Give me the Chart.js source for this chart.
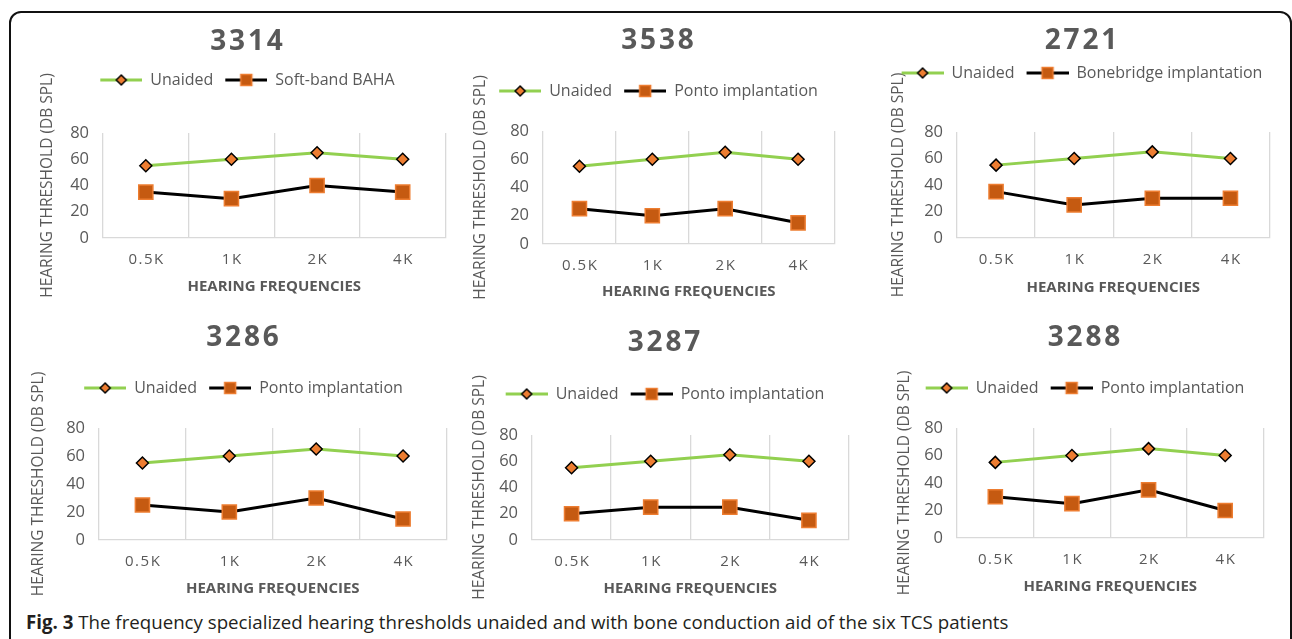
<!DOCTYPE html>
<html>
<head>
<meta charset="utf-8">
<script src="https://cdn.jsdelivr.net/npm/chart.js@4/dist/chart.umd.min.js"></script>
<style>
    html, body { margin: 0; padding: 0; background: #fff; }
    body { width: 1292px; height: 639px; position: relative; overflow: hidden; font-family: "Open Sans", sans-serif; }
    .frame { position: absolute; left: 9px; top: 11px; width: 1279px; height: 700px; border: 2px solid #111; border-radius: 12px; }
    .panel { position: absolute; }
    .caption { position: absolute; left: 26px; top: 609px; font-size: 18.7px; line-height: 26px; color: #231f20; white-space: nowrap; }
    .caption b { font-weight: 700; }
</style>
</head>
<body>
<div class="frame"></div>
<div class="caption"><b>Fig. 3</b> The frequency specialized hearing thresholds unaided and with bone conduction aid of the six TCS patients</div>

<script>
// chart data
const frequencies = ['0.5K', '1K', '2K', '4K'];
const patientIds = ['3314', '3538', '2721', '3286', '3287', '3288'];
const aidNames = ['Soft-band BAHA', 'Ponto implantation', 'Bonebridge implantation', 'Ponto implantation', 'Ponto implantation', 'Ponto implantation'];

const unaided3314 = [55, 60, 65, 60];
const aided3314 = [35, 30, 40, 35];
const unaided3538 = [55, 60, 65, 60];
const aided3538 = [25, 20, 25, 15];
const unaided2721 = [55, 60, 65, 60];
const aided2721 = [35, 25, 30, 30];
const unaided3286 = [55, 60, 65, 60];
const aided3286 = [25, 20, 30, 15];
const unaided3287 = [55, 60, 65, 60];
const aided3287 = [20, 25, 25, 15];
const unaided3288 = [55, 60, 65, 60];
const aided3288 = [30, 25, 35, 20];

const unaidedSeries = [unaided3314, unaided3538, unaided2721, unaided3286, unaided3287, unaided3288];
const aidedSeries = [aided3314, aided3538, aided2721, aided3286, aided3287, aided3288];

const yTicks = [0, 20, 40, 60, 80];

// panel placement (canvas box, axis sizes, gaps)
const panels = [
    { left: 38,  top: 28,  width: 419, height: 271, padR: 2, yW: 65, xH: 61, titleGap: 6,  spacer: 35 },
    { left: 471, top: 27,  width: 375, height: 277, padR: 2, yW: 72, xH: 60, titleGap: 18, spacer: 22 },
    { left: 889, top: 27,  width: 392, height: 273, padR: 8, yW: 68, xH: 62, titleGap: 0,  spacer: 41 },
    { left: 29,  top: 324, width: 429, height: 277, padR: 2, yW: 70, xH: 61, titleGap: 18, spacer: 22 },
    { left: 470, top: 329, width: 390, height: 272, padR: 2, yW: 62, xH: 61, titleGap: 19, spacer: 23 },
    { left: 895, top: 324, width: 380, height: 275, padR: 2, yW: 62, xH: 61, titleGap: 18, spacer: 22 }
];

const textGray = '#595959';
const greenColor = '#92D050';
const orangeLight = '#ED7D31';
const orangeDark = '#C55A11';
const fontFamily = '"Open Sans", sans-serif';
const hair = '\u200A';

const spaced = (s) => s.split('').join(hair);

// little line+marker pictures for the legend
const legendSymbol = (lineColor, marker) => {
    const c = document.createElement('canvas');
    c.width = 44;
    c.height = 16;
    const ctx = c.getContext('2d');
    ctx.strokeStyle = lineColor;
    ctx.lineWidth = 3;
    ctx.beginPath();
    ctx.moveTo(2, 8);
    ctx.lineTo(44, 8);
    ctx.stroke();
    const cx = 23;
    if (marker === 'diamond') {
        ctx.beginPath();
        ctx.moveTo(cx - 5, 8);
        ctx.lineTo(cx, 3);
        ctx.lineTo(cx + 5, 8);
        ctx.lineTo(cx, 13);
        ctx.closePath();
        ctx.fillStyle = orangeLight;
        ctx.fill();
        ctx.lineWidth = 1.5;
        ctx.strokeStyle = '#000';
        ctx.stroke();
    } else {
        ctx.fillStyle = orangeDark;
        ctx.fillRect(cx - 5.5, 2.5, 11, 11);
        ctx.lineWidth = 1.5;
        ctx.strokeStyle = orangeLight;
        ctx.strokeRect(cx - 5.5, 2.5, 11, 11);
    }
    return c;
};

const unaidedSymbol = legendSymbol(greenColor, 'diamond');
const aidedSymbol = legendSymbol('#000', 'square');

panels.forEach((p, i) => {
    const wrap = document.createElement('div');
    wrap.className = 'panel';
    wrap.style.left = p.left + 'px';
    wrap.style.top = p.top + 'px';
    wrap.style.width = p.width + 'px';
    wrap.style.height = p.height + 'px';
    const canvas = document.createElement('canvas');
    wrap.appendChild(canvas);
    document.body.appendChild(wrap);

    new Chart(canvas, {
        type: 'line',
        data: {
            labels: frequencies,
            datasets: [
                {
                    label: 'Unaided',
                    data: unaidedSeries[i],
                    borderColor: greenColor,
                    borderWidth: 3,
                    pointStyle: 'rectRot',
                    pointRadius: 6,
                    pointHoverRadius: 6,
                    pointBackgroundColor: orangeLight,
                    pointBorderColor: '#000',
                    pointBorderWidth: 1.5,
                    tension: 0
                },
                {
                    label: aidNames[i],
                    data: aidedSeries[i],
                    borderColor: '#000',
                    borderWidth: 3,
                    pointStyle: 'rect',
                    pointRadius: 10,
                    pointHoverRadius: 10,
                    pointBackgroundColor: orangeDark,
                    pointBorderColor: orangeLight,
                    pointBorderWidth: 1.5,
                    tension: 0
                }
            ]
        },
        options: {
            animation: false,
            responsive: true,
            maintainAspectRatio: false,
            layout: { padding: { left: 0, right: p.padR, top: 0, bottom: 0 } },
            plugins: {
                title: {
                    display: true,
                    text: spaced(patientIds[i]),
                    color: textGray,
                    font: { family: fontFamily, size: 28, weight: 'bold', lineHeight: 1 },
                    padding: { top: 0, bottom: p.titleGap }
                },
                subtitle: {
                    // empty box used as a gap between legend and plot
                    display: true,
                    text: '',
                    weight: 500,
                    font: { size: 1, lineHeight: 1 },
                    padding: { top: p.spacer - 1, bottom: 0 }
                },
                legend: {
                    display: true,
                    position: 'top',
                    labels: {
                        usePointStyle: true,
                        pointStyleWidth: 44,
                        padding: 10,
                        color: textGray,
                        font: { family: fontFamily, size: 16 },
                        generateLabels: (chart) => {
                            const items = Chart.defaults.plugins.legend.labels.generateLabels(chart);
                            items.forEach((item, k) => {
                                item.pointStyle = k === 0 ? unaidedSymbol : aidedSymbol;
                            });
                            return items;
                        }
                    }
                },
                tooltip: { enabled: false }
            },
            scales: {
                x: {
                    offset: true,
                    grid: {
                        display: true,
                        offset: true,
                        color: '#d9d9d9',
                        lineWidth: 1.3,
                        drawTicks: false
                    },
                    border: { display: true, color: '#d9d9d9', width: 1.3 },
                    ticks: {
                        color: textGray,
                        font: { family: fontFamily, size: 15 },
                        padding: 13,
                        maxRotation: 0,
                        callback: function (value) {
                            return spaced(this.getLabelForValue(value));
                        }
                    },
                    title: {
                        display: true,
                        text: 'HEARING FREQUENCIES',
                        color: textGray,
                        font: { family: fontFamily, size: 15, weight: 'bold' },
                        padding: { top: 0, bottom: 3 }
                    },
                    afterFit: (scale) => { scale.height = p.xH; }
                },
                y: {
                    min: yTicks[0],
                    max: yTicks[yTicks.length - 1],
                    grid: { display: false, drawTicks: false },
                    border: { display: false },
                    ticks: {
                        stepSize: yTicks[1] - yTicks[0],
                        color: textGray,
                        font: { family: fontFamily, size: 16.5 },
                        padding: 14
                    },
                    title: {
                        display: true,
                        text: 'HEARING THRESHOLD (DB SPL)',
                        color: textGray,
                        font: { family: fontFamily, size: 15.5 },
                        padding: { top: 0, bottom: 0 }
                    },
                    afterFit: (scale) => { scale.width = p.yW; }
                }
            }
        }
    });
});
</script>
</body>
</html>
